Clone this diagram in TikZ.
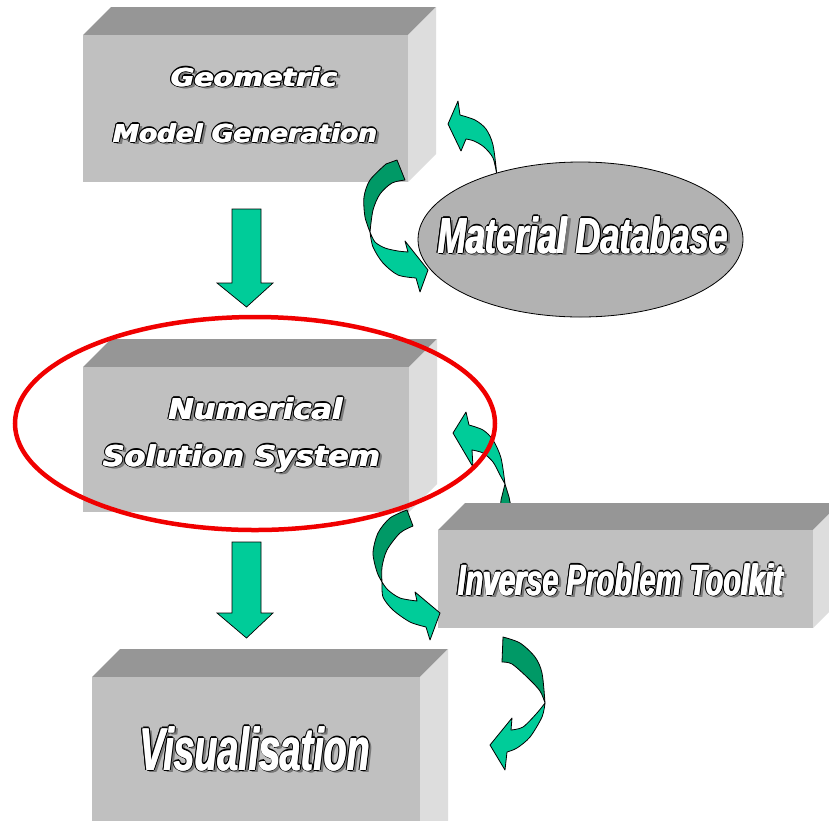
\documentclass[tikz,border=0pt]{standalone}
\usepackage{fontspec}
\usepackage{graphicx}
\newfontfamily\widefont{DejaVu Sans}
\newfontfamily\narrowfont{Liberation Sans}
\definecolor{frontgray}{HTML}{C0C0C0}
\definecolor{topgray}{HTML}{969696}
\definecolor{sidegray}{HTML}{DDDDDD}
\definecolor{lightgreen}{HTML}{00CC99}
\definecolor{darkgreen}{HTML}{009966}
\definecolor{dbgray}{HTML}{B2B2B2}
\definecolor{shadowgray}{HTML}{7A7A7A}
\definecolor{ringred}{HTML}{F00000}
\definecolor{txtwhite}{HTML}{FFFFFF}
\definecolor{txtblack}{HTML}{000000}

\newbox\lblbox
\newcommand\ccopy[3]{\rlap{\kern#2pt\raisebox{#3pt}{\color{#1}\copy\lblbox}}}
% #1 black horiz offset, #2 black diag offset, #3 white spread, #4 shadow shift, #5 content
\newcommand\outlined[5]{\setbox\lblbox\hbox{#5}%
 \ccopy{shadowgray}{#4}{-2.8}%
 \rlap{\kern\dimexpr#4pt+#3pt\relax\raisebox{-2.8pt}{\color{shadowgray}\copy\lblbox}}%
 \ccopy{txtblack}{#1}{0}\ccopy{txtblack}{-#1}{0}\ccopy{txtblack}{0}{1.3}\ccopy{txtblack}{0}{-1.3}%
 \ccopy{txtblack}{#2}{.95}\ccopy{txtblack}{-#2}{.95}\ccopy{txtblack}{#2}{-.95}\ccopy{txtblack}{-#2}{-.95}%
 \ccopy{txtwhite}{#3}{0}\ccopy{txtwhite}{-#3}{0}%
 \hbox{\color{txtwhite}\copy\lblbox}}
% #1 width, #2 height, #3 font size, #4 text
\newcommand\wtxt[4]{\resizebox{#1pt}{#2pt}{\outlined{1.6}{1.2}{0.6}{3}{\widefont\bfseries\itshape\fontsize{#3}{#3}\selectfont #4}}}
\newcommand\ntxt[4]{\resizebox{#1pt}{#2pt}{\outlined{2.3}{1.7}{0.9}{4.5}{\narrowfont\bfseries\itshape\fontsize{#3}{#3}\selectfont #4}}}

% block: x1 y1 x2 y2 depth (y axis points down)
\newcommand\boxblock[5]{%
 \fill[topgray] (#1,#2) -- (#1+#5,#2-#5) -- (#3+#5,#2-#5) -- (#3,#2) -- cycle;
 \fill[sidegray] (#3,#2) -- (#3+#5,#2-#5) -- (#3+#5,#4-#5) -- (#3,#4) -- cycle;
 \fill[frontgray] (#1,#2) rectangle (#3,#4);}

\tikzset{
 curvearrow/.style={draw=black, line width=0.8pt, line join=round},
 blockarrow/.style={draw=black, line width=0.7pt, fill=lightgreen},
 txtlabel/.style={inner sep=0pt, anchor=base}
}

\begin{document}
\begin{tikzpicture}[x=1pt,y=-1pt]
\useasboundingbox (0,0) rectangle (829,820);
\clip (0,0) rectangle (829,820);
\fill[white] (0,0) rectangle (829,820);

% blocks
\boxblock{83}{35}{408}{182}{28}
\boxblock{83}{367}{409}{512}{28}
\boxblock{92}{677}{420}{850}{28}

% arrow C (from toolkit up to numerical solution system)
\filldraw[curvearrow, fill=darkgreen] (505,484) -- (501,500) -- (500,512) -- (512,512) -- (509,497) -- cycle;
\filldraw[curvearrow, fill=lightgreen] (453,433) -- (466,412) -- (469,425)
  -- plot[smooth] coordinates {(469,425) (483,430) (493,440) (501,458) (505,484)}
  -- plot[smooth] coordinates {(505,484) (500,475) (493,462) (483,453) (472,450)}
  -- (473,467) -- cycle;

\boxblock{438}{530}{813}{628}{27}

% straight block arrows
\filldraw[blockarrow] (232,209) -- (261,209) -- (261,283) -- (273,283) -- (246.5,307) -- (217,283) -- (232,283) -- cycle;
\filldraw[blockarrow] (232,542) -- (261,542) -- (261,613) -- (273,613) -- (246.5,638) -- (217,613) -- (232,613) -- cycle;

% arrow A (database up to geometric model)
\filldraw[curvearrow, fill=lightgreen] (448,124) -- (458,101) -- (460,115)
  -- plot[smooth] coordinates {(460,115) (475,120) (486,129) (493,145) (497,176)}
  -- plot[smooth] coordinates {(497,176) (493,158) (484,147) (474,141) (466,139)}
  -- (461,151) -- cycle;

% material database ellipse
\filldraw[fill=dbgray, draw=black, line width=0.8pt] (580.5,239.5) ellipse [x radius=162.5, y radius=77.5];

% arrow B (geometric model down to database)
\filldraw[curvearrow, fill=darkgreen] (386,164) -- (397,160) -- (405,180)
  -- plot[smooth] coordinates {(405,180) (392,183) (380,194) (373,210) (370,232)}
  -- plot[smooth] coordinates {(370,232) (365,217) (364,197) (370,180) (386,164)} -- cycle;
\filldraw[curvearrow, fill=lightgreen] (370,232)
  -- plot[smooth] coordinates {(370,232) (375,242) (385,248) (398,251) (408,252)}
  -- (405,241) -- (428,270) -- (420,292) -- (416,278)
  -- plot[smooth] coordinates {(416,278) (398,275) (383,263) (373,247) (370,232)} -- cycle;

% arrow D (numerical solution down to toolkit)
\filldraw[curvearrow, fill=darkgreen] (407,510) -- (413,526)
  -- plot[smooth] coordinates {(413,526) (400,533) (387,550) (382,567) (382,582)}
  -- plot[smooth] coordinates {(382,582) (377,572) (373,553) (378,533) (390,518) (407,510)} -- cycle;
\filldraw[curvearrow, fill=lightgreen] (382,582)
  -- plot[smooth] coordinates {(382,582) (388,590) (400,598) (417,601)}
  -- (415,592) -- (440,613) -- (430,640) -- (426,627)
  -- plot[smooth] coordinates {(426,627) (410,622) (393,610) (383,597) (382,582)} -- cycle;

% arrow E (toolkit down)
\filldraw[curvearrow, fill=darkgreen] (503,637)
  -- plot[smooth] coordinates {(503,637) (520,643) (535,657) (542,673) (545,703)}
  -- plot[smooth] coordinates {(545,703) (540,691) (528,678) (512,664) (502,662)} -- cycle;
\filldraw[curvearrow, fill=lightgreen] (545,703)
  -- plot[smooth] coordinates {(545,703) (542,717) (530,737) (517,748) (507,752)}
  -- (505,770) -- (490,745) -- (512,718) -- (511,730)
  -- plot[smooth] coordinates {(511,730) (523,727) (537,713) (545,703)} -- cycle;

% labels
\node[txtlabel, name=geo1] at (254,86) {\wtxt{166}{20}{25}{Geometric}};
\node[txtlabel, name=geo2] at (245,142) {\wtxt{264}{20}{25}{Model Generation}};
\node[txtlabel, name=num1] at (255.5,419) {\wtxt{174}{23}{29}{Numerical}};
\node[txtlabel, name=num2] at (241.5,466) {\wtxt{277}{23}{29}{Solution System}};
\node[txtlabel, name=matdb] at (583,253) {\ntxt{290}{38}{50}{Material Database}};
\node[txtlabel, name=inv] at (620.5,595) {\ntxt{325}{33}{44}{Inverse Problem Toolkit}};
\node[txtlabel, name=vis] at (255,770) {\ntxt{230}{45}{60}{Visualisation}};

% red highlight ring
\draw[ringred, line width=4.5pt] (255,423.5) ellipse [x radius=240, y radius=106.5];
\end{tikzpicture}
\end{document}
